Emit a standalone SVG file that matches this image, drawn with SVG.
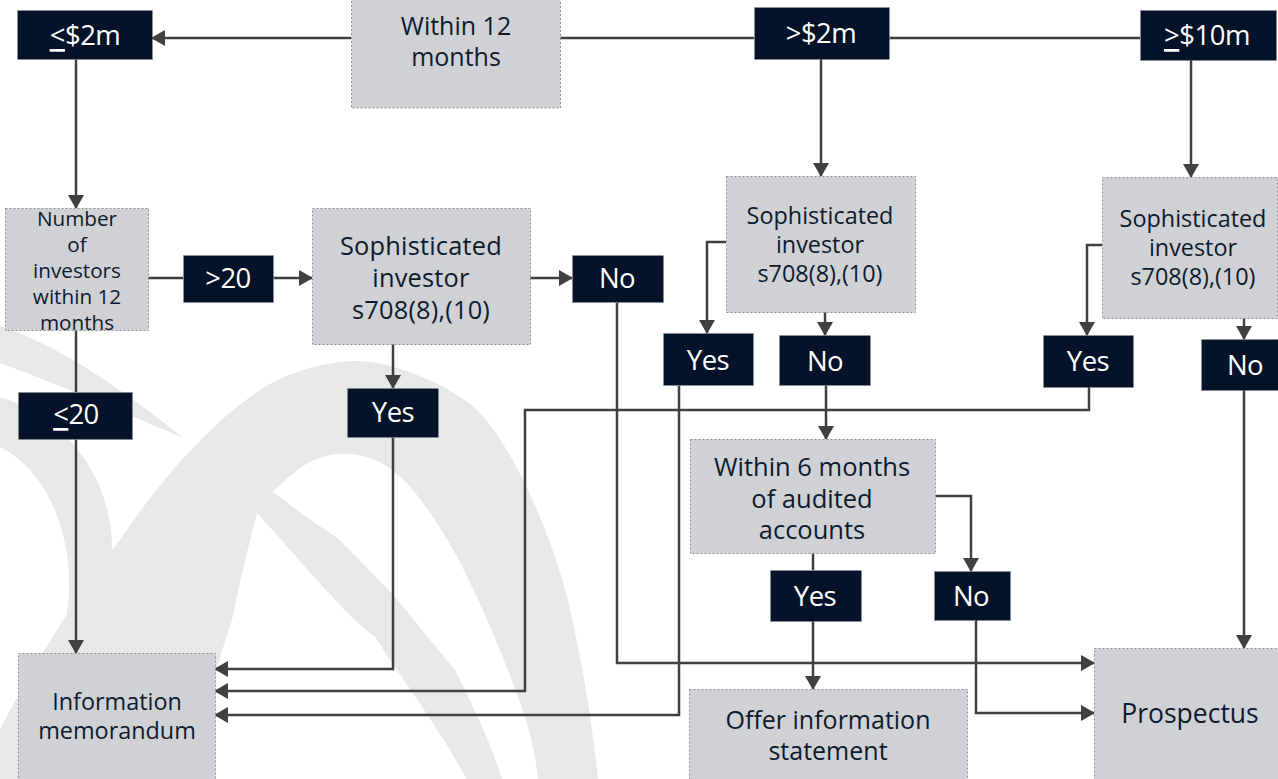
<svg xmlns="http://www.w3.org/2000/svg" width="1278" height="779" viewBox="0 0 1278 779">
<style>
.bg{fill:#ffffff}
.wm{fill:#e7e8e8}
.wh{fill:#ffffff}
.g{fill:#cfd1d4;stroke:#8e9094;stroke-width:1;stroke-dasharray:2 2}
.d{fill:#041329;stroke:#8e9094;stroke-width:1;stroke-dasharray:2 2}
.tg{font-family:"Open Sans","Noto Sans",sans-serif;fill:#0d1a2e;text-anchor:middle;dominant-baseline:central}
.td{font-family:"Open Sans","Noto Sans",sans-serif;fill:#ffffff;text-anchor:middle;dominant-baseline:central;font-size:27.5px;letter-spacing:-0.5px}
.c{fill:none;stroke:#404040;stroke-width:2.5}
.a{marker-end:url(#ah)}
</style>
<defs>
<marker id="ah" markerUnits="userSpaceOnUse" markerWidth="14" markerHeight="16" refX="13" refY="8" orient="auto">
<path d="M0,0 L14,8 L0,16 Z" fill="#404040"/>
</marker>
</defs>
<rect class="bg" x="0" y="0" width="1278" height="779"/>
<g id="watermark">
<path class="wm" d="M0,326 C60,345 130,395 183,438 C130,415 60,385 0,363 Z"/>
<path class="wm" d="M0,730 C30,670 80,590 120,540 C160,480 220,410 277,380 C310,365 340,360 360,361 C390,362 440,380 474,407 C510,440 550,530 568,600 C584,670 593,730 598,779 L0,779 Z"/>
<path class="wm" d="M0,397 C60,415 110,470 112,545 C112,575 100,600 85,618 L60,640 C82,580 65,480 0,447 Z"/>
<path class="wh" d="M190,779 C200,730 215,670 232,620 C240,580 250,540 257,513 C300,560 345,615 375,637 C410,690 450,745 466,779 Z"/>
<path class="wh" d="M273,492 C290,475 305,462 320,458 C335,452 355,452 375,460 C400,470 425,500 455,553 C480,600 510,670 526,720 C532,740 536,760 538,779 L502,779 C490,740 470,700 455,670 C430,640 410,615 395,597 C370,570 340,540 336,537 C310,520 290,505 273,492 Z"/>
</g>
<g id="connectors">
<path class="c a" d="M351,38 H152"/>
<path class="c" d="M560,38 H754"/>
<path class="c" d="M889,38 H1140"/>
<path class="c a" d="M76,59 V208"/>
<path class="c" d="M148,278 H183"/>
<path class="c a" d="M273,278 H312"/>
<path class="c a" d="M530,278 H572"/>
<path class="c" d="M76,330 V392"/>
<path class="c a" d="M76,439 V653"/>
<path class="c a" d="M393,344 V388"/>
<path class="c a" d="M393,437 V669 H215"/>
<path class="c a" d="M821,59 V176"/>
<path class="c a" d="M726,242 H707 V333"/>
<path class="c a" d="M825,312 V335"/>
<path class="c a" d="M826,385 V439"/>
<path class="c a" d="M679,385 V715 H215"/>
<path class="c a" d="M1089,387 V410 H525 V691 H215"/>
<path class="c a" d="M617,302 V663 H1094"/>
<path class="c a" d="M1191,60 V177"/>
<path class="c a" d="M1102,245 H1087 V335"/>
<path class="c a" d="M1244,318 V339"/>
<path class="c a" d="M1244,390 V648"/>
<path class="c a" d="M935,496 H971 V571"/>
<path class="c" d="M813,553 V570"/>
<path class="c a" d="M813,621 V689"/>
<path class="c a" d="M976,620 V713 H1094"/>
</g>
<g id="within12">
<rect class="g" x="351.5" y="-1" width="209" height="109"/>
<text class="tg" font-size="25" x="456" y="25">Within 12</text>
<text class="tg" font-size="25" x="456" y="56">months</text>
</g>
<g id="le2m">
<rect class="d" x="17.5" y="10.5" width="135" height="49"/>
<text class="td" x="85" y="34"><tspan text-decoration="underline">&lt;</tspan>$2m</text>
</g>
<g id="gt2m">
<rect class="d" x="754.5" y="7.5" width="135" height="52"/>
<text class="td" x="821" y="32">&gt;$2m</text>
</g>
<g id="ge10m">
<rect class="d" x="1140.5" y="10.5" width="136" height="50"/>
<text class="td" x="1207" y="34"><tspan text-decoration="underline">&gt;</tspan>$10m</text>
</g>
<g id="numInv">
<rect class="g" x="5.5" y="208.5" width="143" height="122"/>
<text class="tg" font-size="20.7" x="77" y="218">Number</text>
<text class="tg" font-size="20.7" x="77" y="244">of</text>
<text class="tg" font-size="20.7" x="77" y="270">investors</text>
<text class="tg" font-size="20.7" x="77" y="296">within 12</text>
<text class="tg" font-size="20.7" x="77" y="322">months</text>
</g>
<g id="gt20">
<rect class="d" x="183.5" y="255.5" width="90" height="47"/>
<text class="td" x="228" y="277">&gt;20</text>
</g>
<g id="sophL">
<rect class="g" x="312.5" y="208.5" width="218" height="136"/>
<text class="tg" font-size="25.4" letter-spacing="0.2" x="421" y="245">Sophisticated</text>
<text class="tg" font-size="25.4" letter-spacing="0.2" x="421" y="277">investor</text>
<text class="tg" font-size="25.4" letter-spacing="0.2" x="421" y="309">s708(8),(10)</text>
</g>
<g id="noL">
<rect class="d" x="572.5" y="255.5" width="91" height="47"/>
<text class="td" x="617" y="277">No</text>
</g>
<g id="sophM">
<rect class="g" x="726.5" y="176.5" width="189" height="136"/>
<text class="tg" font-size="23.4" x="820" y="215">Sophisticated</text>
<text class="tg" font-size="23.4" x="820" y="244">investor</text>
<text class="tg" font-size="23.4" x="820" y="273">s708(8),(10)</text>
</g>
<g id="sophR">
<rect class="g" x="1102.5" y="177.5" width="175" height="141"/>
<text class="tg" font-size="23.4" x="1193" y="218">Sophisticated</text>
<text class="tg" font-size="23.4" x="1193" y="247">investor</text>
<text class="tg" font-size="23.4" x="1193" y="276">s708(8),(10)</text>
</g>
<g id="yesM">
<rect class="d" x="663.5" y="333.5" width="90" height="52"/>
<text class="td" x="708" y="359">Yes</text>
</g>
<g id="noM">
<rect class="d" x="779.5" y="335.5" width="91" height="50"/>
<text class="td" x="825" y="360">No</text>
</g>
<g id="yesR">
<rect class="d" x="1043.5" y="335.5" width="90" height="52"/>
<text class="td" x="1088" y="360">Yes</text>
</g>
<g id="noR">
<rect class="d" x="1201.5" y="339.5" width="77" height="51"/>
<text class="td" x="1245" y="364">No</text>
</g>
<g id="le20">
<rect class="d" x="18.5" y="392.5" width="114" height="47"/>
<text class="td" x="76" y="413"><tspan text-decoration="underline">&lt;</tspan>20</text>
</g>
<g id="yesL">
<rect class="d" x="347.5" y="388.5" width="91" height="49"/>
<text class="td" x="393" y="411">Yes</text>
</g>
<g id="within6">
<rect class="g" x="690.5" y="439.5" width="245" height="114"/>
<text class="tg" font-size="25.5" x="812" y="466">Within 6 months</text>
<text class="tg" font-size="25.5" x="812" y="497.5">of audited</text>
<text class="tg" font-size="25.5" x="812" y="529">accounts</text>
</g>
<g id="yesB">
<rect class="d" x="770.5" y="570.5" width="91" height="51"/>
<text class="td" x="815" y="595">Yes</text>
</g>
<g id="noB">
<rect class="d" x="934.5" y="571.5" width="76" height="49"/>
<text class="td" x="971" y="595">No</text>
</g>
<g id="info">
<rect class="g" x="18.5" y="653.5" width="197" height="127"/>
<text class="tg" font-size="23.4" x="117" y="701">Information</text>
<text class="tg" font-size="23.4" x="117" y="730">memorandum</text>
</g>
<g id="offer">
<rect class="g" x="689.5" y="689.5" width="278" height="91"/>
<text class="tg" font-size="25" x="828" y="719">Offer information</text>
<text class="tg" font-size="25" x="828" y="750">statement</text>
</g>
<g id="prosp">
<rect class="g" x="1094.5" y="648.5" width="184" height="132"/>
<text class="tg" font-size="26.5" x="1190" y="713">Prospectus</text>
</g>
</svg>
